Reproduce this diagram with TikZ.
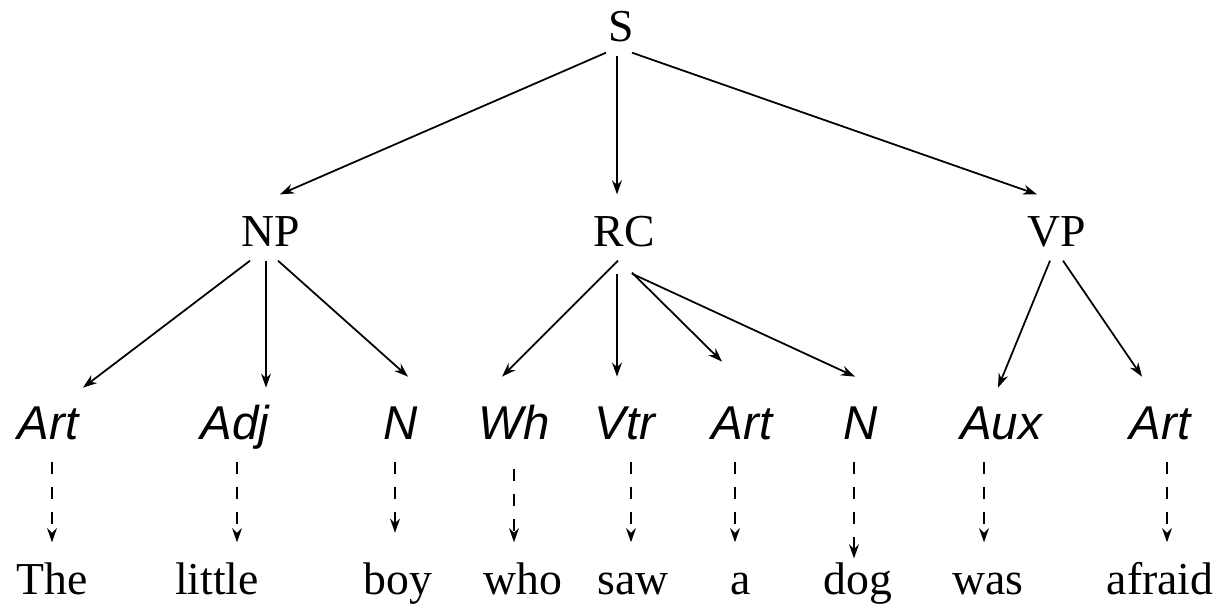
\documentclass[tikz,border=0pt]{standalone}
\usepackage{fontspec}
\setmainfont{Liberation Serif}
\newfontfamily\posfont{Liberation Sans}
\usetikzlibrary{arrows.meta}
\begin{document}
\begin{tikzpicture}[x=0.01cm,y=-0.01cm,
    phrase/.style={inner sep=0pt,anchor=base,text height=8.5pt,text depth=0pt,font=\fontsize{13}{15}\selectfont},
    cat/.style={inner sep=0pt,anchor=base,text height=9pt,text depth=2.5pt,font=\posfont\itshape\fontsize{13.5}{16}\selectfont},
    word/.style={inner sep=0pt,anchor=base,text height=9pt,text depth=2.5pt,font=\fontsize{13}{15}\selectfont},
    branch/.style={-{Stealth[length=4pt,width=2.8pt]},line width=0.5pt},
    lex/.style={-{Stealth[length=4pt,width=2.8pt]},line width=0.5pt,dash pattern=on 3.4pt off 3.7pt,shorten <=3.5pt,shorten >=5.8pt}]
                    \useasboundingbox (0,0) rectangle (1221,607);
                    % phrases
                    \node[phrase] (s) at (621,42) {S};
                    \node[phrase] (np) at (271,247) {NP};
                    \node[phrase] (rc) at (624,247) {RC};
                    \node[phrase] (vp) at (1057,247) {VP};
                    \draw[branch] ([shift={(-15,10)}]s.south) -- ([shift={(9,-22)}]np.north);
                    \draw[branch] ([shift={(-4,13)}]s.south) -- ([shift={(-7,-22)}]rc.north);
                    \draw[branch] ([shift={(11,10)}]s.south) -- ([shift={(-20,-22)}]vp.north);
                    % categories
                    \node[cat] (art1) at (48,440) {Art};
                    \node[cat] (adj) at (235,440) {Adj};
                    \node[cat] (n1) at (401,440) {N};
                    \node[cat] (wh) at (514,440) {Wh};
                    \node[cat] (vtr) at (625,440) {Vtr};
                    \node[cat] (art2) at (742,440) {Art};
                    \node[cat] (n2) at (861,440) {N};
                    \node[cat] (aux) at (1001,440) {Aux};
                    \node[cat] (art3) at (1160,440) {Art};
                    \draw[branch] ([shift={(-21,13)}]np.south) -- ([shift={(35,-20)}]art1.north);
                    \draw[branch] ([shift={(-5,13)}]np.south) -- ([shift={(31,-20)}]adj.north);
                    \draw[branch] ([shift={(7,13)}]np.south) -- ([shift={(7,-31)}]n1.north);
                    \draw[branch] ([shift={(-6,13)}]rc.south) -- ([shift={(-12,-31)}]wh.north);
                    \draw[branch] ([shift={(-7,26)}]rc.south) -- ([shift={(-8,-31)}]vtr.north);
                    \draw[branch] ([shift={(8,25)}]rc.south) -- ([shift={(-20,-46)}]art2.north);
                    \draw[branch] ([shift={(8,26)}]rc.south) -- ([shift={(-6,-31)}]n2.north);
                    \draw[branch] ([shift={(-7,13)}]vp.south) -- ([shift={(-3,-20)}]aux.north);
                    \draw[branch] ([shift={(6,13)}]vp.south) -- ([shift={(-18,-31)}]art3.north);
                    % words
                    \node[word] (the) at (52,595) {The};
                    \node[word] (little) at (217,595) {little};
                    \node[word] (boy) at (398,595) {boy};
                    \node[word] (who) at (523,595) {who};
                    \node[word] (saw) at (633,595) {saw};
                    \node[word] (a) at (741,595) {a};
                    \node[word] (dog) at (858,595) {dog};
                    \node[word] (was) at (988,595) {was};
                    \node[word] (afraid) at (1160,595) {afraid};
                    \draw[lex] ([shift={(4,0)}]art1.south) -- ([shift={(4,0)}]art1.south |- the.north);
                    \draw[lex] ([shift={(2,0)}]adj.south) -- ([shift={(2,0)}]adj.south |- little.north);
                    \draw[lex,shorten >=8.5pt] ([shift={(-6,0)}]n1.south) -- ([shift={(-6,0)}]n1.south |- boy.north);
                    \draw[lex,shorten <=5.5pt] (wh.south) -- (wh.south |- who.north);
                    \draw[lex] ([shift={(6,0)}]vtr.south) -- ([shift={(6,0)}]vtr.south |- saw.north);
                    \draw[lex] ([shift={(-7,0)}]art2.south) -- ([shift={(-7,0)}]art2.south |- a.north);
                    \draw[lex,shorten >=1.2pt] ([shift={(-7,0)}]n2.south) -- ([shift={(-7,0)}]n2.south |- dog.north);
                    \draw[lex] ([shift={(-17,0)}]aux.south) -- ([shift={(-17,0)}]aux.south |- was.north);
                    \draw[lex] ([shift={(7,0)}]art3.south) -- ([shift={(7,0)}]art3.south |- afraid.north);
                  \end{tikzpicture}
\end{document}
